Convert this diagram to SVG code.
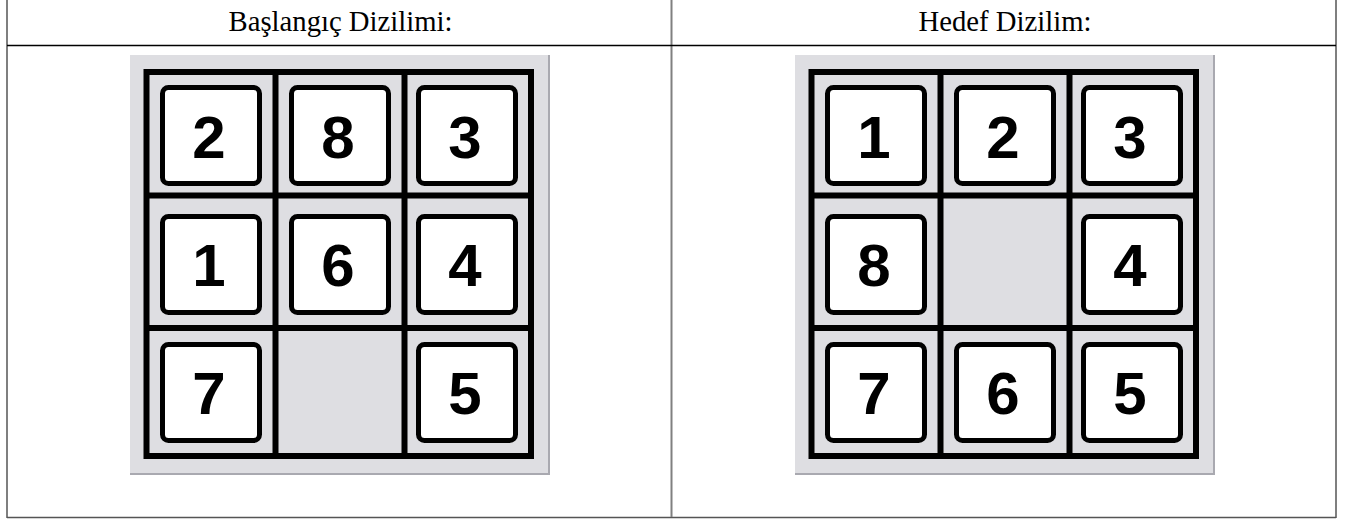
<svg xmlns="http://www.w3.org/2000/svg" width="1346" height="523" viewBox="0 0 1346 523">
<style>
.hdr{font-family:"Liberation Serif","Times New Roman",serif;font-size:28.7px;fill:#000;text-anchor:middle}
.bg{fill:#dedee2}
.shadow{stroke:#a9a9b0;stroke-width:2;fill:none}
.grid{fill:none;stroke:#000;stroke-width:6}
.tile{fill:#fff;stroke:#000;stroke-width:5;rx:6;ry:6}
.num{font-family:"Liberation Sans",Arial,sans-serif;font-weight:bold;font-size:60px;fill:#000;text-anchor:middle}
.tb{stroke:#555;stroke-width:1.5;fill:none}
</style>
<rect width="1346" height="523" fill="#fff"/>
<g id="table">
<line class="tb" x1="7" y1="0" x2="7" y2="518"/>
<line class="tb" x1="1336" y1="0" x2="1336" y2="518"/>
<line class="tb" x1="7" y1="517.5" x2="1336" y2="517.5"/>
<line x1="671.5" y1="0" x2="671.5" y2="517" stroke="#808080" stroke-width="2"/>
<line x1="7" y1="45.5" x2="1336" y2="45.5" stroke="#000" stroke-width="1.6"/>
<text class="hdr" x="340.5" y="31">Başlangıç Dizilimi:</text>
<text class="hdr" x="1005" y="31">Hedef Dizilim:</text>
</g>
<g id="start-board">
<rect class="bg" x="130" y="55" width="420" height="420"/>
<polyline class="shadow" points="549,55 549,474 130,474"/>
<rect class="grid" x="146.5" y="72" width="384.5" height="384"/>
<line class="grid" x1="275.5" y1="72" x2="275.5" y2="456"/>
<line class="grid" x1="404.5" y1="72" x2="404.5" y2="456"/>
<line class="grid" x1="146.5" y1="195.5" x2="531" y2="195.5"/>
<line class="grid" x1="146.5" y1="328" x2="531" y2="328"/>
<g id="s-2"><rect class="tile" x="162.5" y="87.5" width="97" height="96"/><text class="num" x="209" y="157.5">2</text></g>
<g id="s-8"><rect class="tile" x="291.5" y="87.5" width="97" height="96"/><text class="num" x="338" y="157.5">8</text></g>
<g id="s-3"><rect class="tile" x="418.5" y="87.5" width="97" height="96"/><text class="num" x="465" y="157.5">3</text></g>
<g id="s-1"><rect class="tile" x="162.5" y="216.5" width="97" height="96"/><text class="num" x="209" y="286">1</text></g>
<g id="s-6"><rect class="tile" x="291.5" y="216.5" width="97" height="96"/><text class="num" x="338" y="286">6</text></g>
<g id="s-4"><rect class="tile" x="418.5" y="216.5" width="97" height="96"/><text class="num" x="465" y="286">4</text></g>
<g id="s-7"><rect class="tile" x="162.5" y="344.5" width="97" height="96"/><text class="num" x="209" y="413.5">7</text></g>
<g id="s-5"><rect class="tile" x="418.5" y="344.5" width="97" height="96"/><text class="num" x="465" y="413.5">5</text></g>
</g>
<g id="goal-board" transform="translate(665 0)">
<rect class="bg" x="130" y="55" width="420" height="420"/>
<polyline class="shadow" points="549,55 549,474 130,474"/>
<rect class="grid" x="146.5" y="72" width="384.5" height="384"/>
<line class="grid" x1="275.5" y1="72" x2="275.5" y2="456"/>
<line class="grid" x1="404.5" y1="72" x2="404.5" y2="456"/>
<line class="grid" x1="146.5" y1="195.5" x2="531" y2="195.5"/>
<line class="grid" x1="146.5" y1="328" x2="531" y2="328"/>
<g id="g-1"><rect class="tile" x="162.5" y="87.5" width="97" height="96"/><text class="num" x="209" y="157.5">1</text></g>
<g id="g-2"><rect class="tile" x="291.5" y="87.5" width="97" height="96"/><text class="num" x="338" y="157.5">2</text></g>
<g id="g-3"><rect class="tile" x="418.5" y="87.5" width="97" height="96"/><text class="num" x="465" y="157.5">3</text></g>
<g id="g-8"><rect class="tile" x="162.5" y="216.5" width="97" height="96"/><text class="num" x="209" y="286">8</text></g>
<g id="g-4"><rect class="tile" x="418.5" y="216.5" width="97" height="96"/><text class="num" x="465" y="286">4</text></g>
<g id="g-7"><rect class="tile" x="162.5" y="344.5" width="97" height="96"/><text class="num" x="209" y="413.5">7</text></g>
<g id="g-6"><rect class="tile" x="291.5" y="344.5" width="97" height="96"/><text class="num" x="338" y="413.5">6</text></g>
<g id="g-5"><rect class="tile" x="418.5" y="344.5" width="97" height="96"/><text class="num" x="465" y="413.5">5</text></g>
</g>
<g id="connectors"/>
</svg>
